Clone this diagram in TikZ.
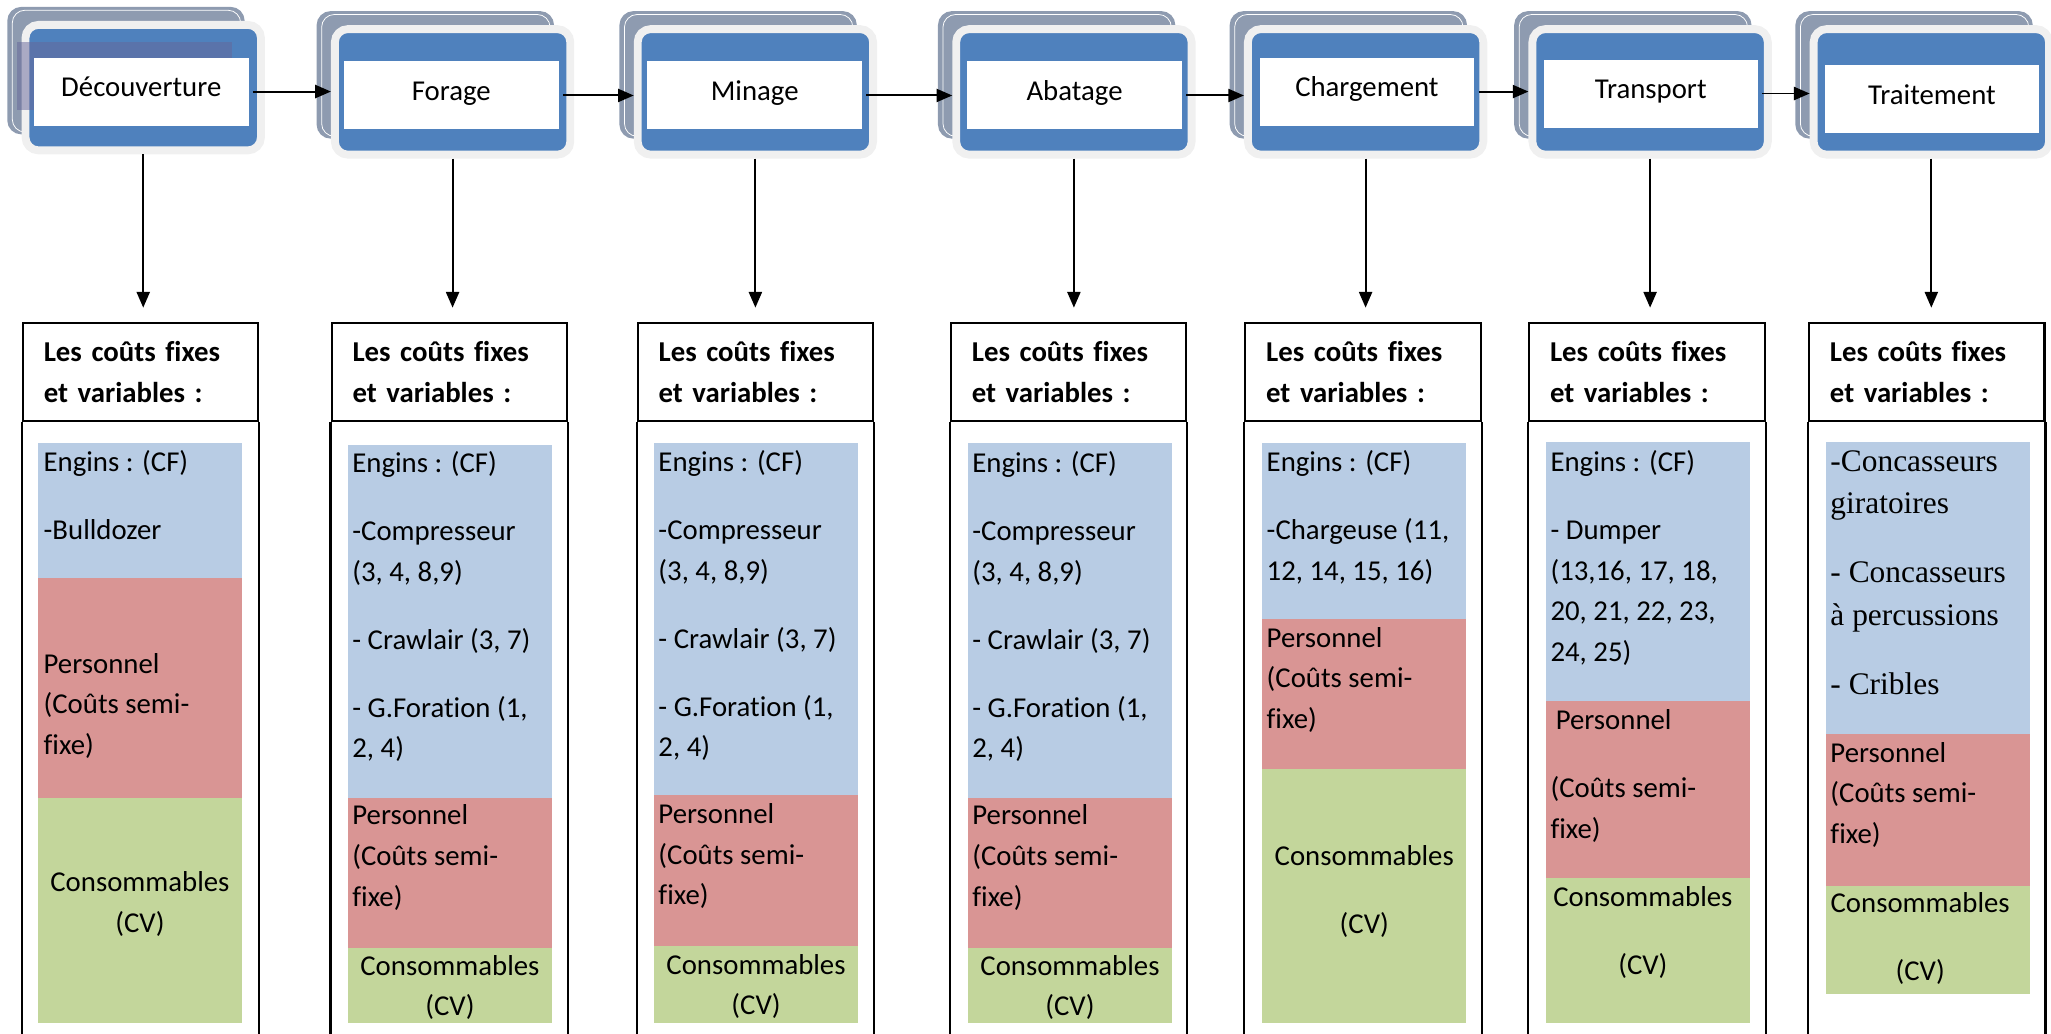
\documentclass[tikz,border=0pt]{standalone}
\usepackage{fontspec}
\setmainfont{Carlito}[Ligatures=NoCommon]
\newfontfamily\timesfont{Liberation Serif}
\usetikzlibrary{arrows.meta,shadows}

\definecolor{stepblue}{HTML}{4F81BD}
\definecolor{stepborder}{HTML}{F0F0F0}
\definecolor{stackgray}{HTML}{8E9BB0}
\definecolor{engincol}{HTML}{B8CCE4}
\definecolor{perscol}{HTML}{D99594}
\definecolor{conscol}{HTML}{C3D69B}

\newcommand\corps{\fontsize{11}{15.5}\selectfont}
\newcommand\corpsserif{\timesfont\fontsize{12}{16.3}\selectfont}

\tikzset{
  etape/.style={rounded corners=5pt, fill=stepblue, draw=stepborder, line width=3pt,
    minimum width=90pt, minimum height=48pt, inner sep=0pt,
    general shadow={fill=stackgray, draw=stackgray, line width=0.75pt, shadow xshift=-6.6pt, shadow yshift=6.5pt},
    general shadow={draw=white, line width=0.3pt, shadow xshift=-6.6pt, shadow yshift=6.5pt, shadow scale=0.97}},
  intitule/.style={fill=white, minimum width=82pt, minimum height=26pt, inner sep=0pt,
    text height=8pt, text depth=4pt, font=\corps},
  fleche/.style={-{Triangle[length=6pt,width=5pt]}, line width=0.75pt},
  cadre/.style={line width=0.8pt},
  entete/.style={draw, line width=0.8pt, minimum height=37.5pt, text width=74pt,
    inner xsep=8pt, inner ysep=0pt, align=left, font=\corps\bfseries},
  txt/.style={anchor=north west, inner sep=0pt, yshift=-3.5pt, align=left, font=\corps, execute at begin node=\strut},
  txtc/.style={txt, anchor=north, align=center}
}

\begin{document}
\begin{tikzpicture}[x=0.5pt,y=-0.5pt]
\useasboundingbox (0,0) rectangle (1568,790);

% etapes du processus
\foreach \n/\x/\y in {1/109.5/67, 2/346/70.25, 3/577.5/70.25, 4/821/70.25, 5/1044/70.25, 6/1261.5/70.25, 7/1476.5/70.25}
  \node[etape] (st\n) at (\x,\y) {};

% bande grise derriere Decouverture
\fill[gray!80!blue, opacity=0.5] (13,32) rectangle (177,84);

\foreach \n/\t/\x/\y in {1/Découverture/108/70, 2/Forage/345/73, 3/Minage/577/73, 4/Abatage/821.5/73, 5/Chargement/1045/70, 6/Transport/1262/71.5, 7/Traitement/1477/76}
  \node[intitule] (lb\n) at (\x,\y) {\t};

\foreach \a/\b in {1/2,2/3,3/4,4/5,5/6,6/7}
  \draw[fleche, shorten <=1.5pt] (lb\a.east) -- (lb\a.east -| st\b.west);

% fonds colores
\foreach \l/\r/\a/\b/\c/\d in {29/185/339/442/610/782, 266/422/340/610/725/782, 500/656/339/608/723/782, 740/896/339/610/725/782, 965/1121/339/473/588/782, 1182/1338/338/536/671/782, 1396/1552/338/561/677/760} {
  \fill[engincol] (\l,\a) rectangle (\r,\b);
  \fill[perscol] (\l,\b) rectangle (\r,\c);
  \fill[conscol] (\l,\c) rectangle (\r,\d);
}

% cadres des couts
\foreach \n/\x in {1/107.5, 2/343.5, 3/577.5, 4/817, 5/1042, 6/1259, 7/1473} {
  \node[entete] (hd\n) at (\x,284.5) {Les coûts fixes\\et variables :};
  \draw[cadre] (hd\n.south west) -- ++(0,480);
  \draw[cadre] (hd\n.south east) -- ++(0,480);
  \draw[fleche, shorten >=5.5pt] (st\n.south) -- (st\n.south |- hd\n.north);
}

% colonne 1
\node[txt] (en1) at (33,337) {Engins : (CF)\\[10.5pt]-Bulldozer};
\node[txt] (pe1) at (33,492) {Personnel\\(Coûts semi-\\fixe)};
\node[txtc] (co1) at (107,659) {Consommables\\(CV)};

% colonne 2
\node[txt] (en2) at (269,338) {Engins : (CF)\\[10.5pt]-Compresseur\\(3, 4, 8,9)\\[10.5pt]- Crawlair (3, 7)\\[10.5pt]- G.Foration (1,\\2, 4)};
\node[txt] (pe2) at (269,608) {Personnel\\(Coûts semi-\\fixe)};
\node[txtc] (co2) at (344,723) {Consommables\\(CV)};

% colonne 3
\node[txt] (en3) at (503,337) {Engins : (CF)\\[10.5pt]-Compresseur\\(3, 4, 8,9)\\[10.5pt]- Crawlair (3, 7)\\[10.5pt]- G.Foration (1,\\2, 4)};
\node[txt] (pe3) at (503,607) {Personnel\\(Coûts semi-\\fixe)};
\node[txtc] (co3) at (578,722) {Consommables\\(CV)};

% colonne 4
\node[txt] (en4) at (743,338) {Engins : (CF)\\[10.5pt]-Compresseur\\(3, 4, 8,9)\\[10.5pt]- Crawlair (3, 7)\\[10.5pt]- G.Foration (1,\\2, 4)};
\node[txt] (pe4) at (743,608) {Personnel\\(Coûts semi-\\fixe)};
\node[txtc] (co4) at (818,723) {Consommables\\(CV)};

% colonne 5
\node[txt] (en5) at (968,337) {Engins : (CF)\\[10.5pt]-Chargeuse (11,\\12, 14, 15, 16)};
\node[txt] (pe5) at (968,472) {Personnel\\(Coûts semi-\\fixe)};
\node[txtc] (co5) at (1043,639) {Consommables\\[10.5pt](CV)};

% colonne 6
\node[txt] (en6) at (1185,337) {Engins : (CF)\\[10.5pt]- Dumper\\(13,16, 17, 18,\\20, 21, 22, 23,\\24, 25)};
\node[txt] (pe6) at (1185,535) {\hspace{2pt}Personnel\\[10.5pt](Coûts semi-\\fixe)};
\node[txtc] (co6) at (1256,670) {Consommables\\[10.5pt](CV)};

% colonne 7
\node[txt, font=\corpsserif] (en7) at (1399,337) {-Concasseurs\\giratoires\\[10pt]- Concasseurs\\à percussions\\[10pt]- Cribles};
\node[txt] (pe7) at (1399,560) {Personnel\\(Coûts semi-\\fixe)};
\node[txtc] (co7) at (1468,675) {Consommables\\[10.5pt](CV)};
\end{tikzpicture}
\end{document}
